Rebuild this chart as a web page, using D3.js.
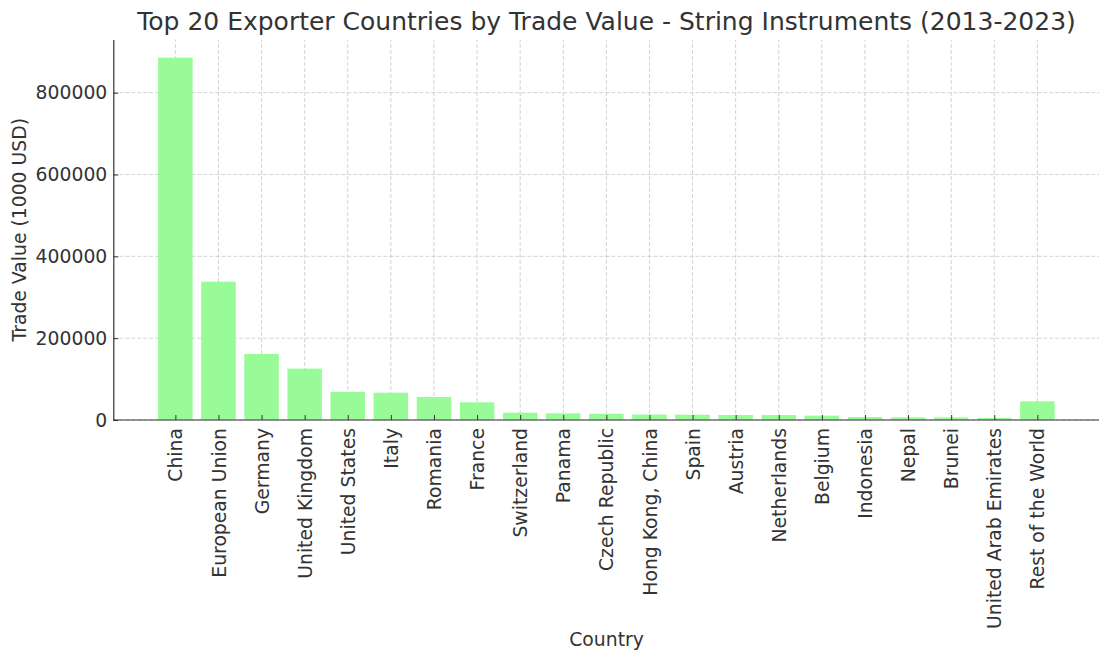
<!DOCTYPE html>
<html>
<head>
<meta charset="utf-8">
<script src="https://cdn.jsdelivr.net/npm/d3@7"></script>
<style>
  body { margin: 0; background: #fff; }
  text { font-family: "DejaVu Sans", sans-serif; fill: #333; }
</style>
</head>
<body>
<svg id="chart" width="1099" height="652"></svg>
<script>
const countries = [
  "China", "European Union", "Germany", "United Kingdom", "United States",
  "Italy", "Romania", "France", "Switzerland", "Panama", "Czech Republic",
  "Hong Kong, China", "Spain", "Austria", "Netherlands", "Belgium",
  "Indonesia", "Nepal", "Brunei", "United Arab Emirates", "Rest of the World"
];
const tradeValues = [
  885500, 338000, 161300, 125600, 69000,
  66700, 56200, 43200, 17900, 16300, 15200,
  13300, 13000, 12200, 12000, 10600,
  7300, 6500, 6300, 4900, 45600
];
const yTicks = [0, 200000, 400000, 600000, 800000];

const svg = d3.select("#chart");
const left = 113.3, bottom = 420;
const step = 43.1;
const n = countries.length;
const tickFont = 18.8;

// matplotlib-style x limits: bars at integer positions, 5% margin
const x = d3.scaleLinear()
  .domain([-1.44, n - 1 + 1.44])
  .range([left, left + (n - 1 + 2.88) * step]);
const y = d3.scaleLinear()
  .domain([0, d3.max(tradeValues) * 1.05])
  .range([bottom, bottom - d3.max(tradeValues) * 1.05 / 2444]);

// grid
const grid = svg.append("g").attr("class", "grid");
grid.selectAll(".gx")
  .data(countries)
  .join("line")
  .attr("x1", (d, i) => x(i)).attr("x2", (d, i) => x(i))
  .attr("y1", y.range()[0]).attr("y2", y.range()[1])
  .attr("stroke", "#c8c8c8").attr("stroke-width", 0.8)
  .attr("stroke-dasharray", "4,2");
grid.selectAll(".gy")
  .data(yTicks)
  .join("line")
  .attr("x1", left).attr("x2", 1099)
  .attr("y1", d => y(d)).attr("y2", d => y(d))
  .attr("stroke", "#c8c8c8").attr("stroke-width", 0.8)
  .attr("stroke-dasharray", "4,2");

// bars
const barW = 0.8 * step;
svg.append("g")
  .selectAll("rect")
  .data(tradeValues)
  .join("rect")
  .attr("x", (d, i) => x(i) - barW / 2)
  .attr("width", barW)
  .attr("y", d => y(d))
  .attr("height", d => y(0) - y(d))
  .attr("fill", "#98fb98");

// axes
const xAxis = d3.axisBottom(x)
  .tickValues(d3.range(n))
  .tickFormat(i => countries[i])
  .tickSizeInner(-5).tickSizeOuter(0);
const gx = svg.append("g")
  .attr("transform", `translate(0,${bottom})`)
  .call(xAxis);
gx.select(".domain").attr("stroke", "#333").attr("stroke-width", 1.2)
  .attr("d", `M${left},0H1099`);
gx.selectAll(".tick line").attr("stroke", "#333");
gx.selectAll(".tick text")
  .attr("font-size", tickFont)
  .attr("fill", "#333")
  .attr("transform", "rotate(-90)")
  .attr("text-anchor", "end")
  .attr("x", -8).attr("y", 0).attr("dy", "0.35em");

const yAxis = d3.axisLeft(y)
  .tickValues(yTicks)
  .tickFormat(d3.format("d"))
  .tickSizeInner(-5).tickSizeOuter(0);
const gy = svg.append("g")
  .attr("transform", `translate(${left},0)`)
  .call(yAxis);
gy.select(".domain").attr("stroke", "#333").attr("stroke-width", 1.2);
gy.selectAll(".tick line").attr("stroke", "#333");
gy.selectAll(".tick text")
  .attr("font-size", tickFont)
  .attr("fill", "#333")
  .attr("x", -6);

// titles
svg.append("text")
  .attr("x", (left + 1099.8) / 2).attr("y", 30)
  .attr("text-anchor", "middle")
  .attr("font-size", 25)
  .text("Top 20 Exporter Countries by Trade Value - String Instruments (2013-2023)");

svg.append("text")
  .attr("x", (left + 1099.8) / 2).attr("y", 646)
  .attr("text-anchor", "middle")
  .attr("font-size", tickFont)
  .text("Country");

svg.append("text")
  .attr("transform", `translate(26,${(y.range()[0] + y.range()[1]) / 2}) rotate(-90)`)
  .attr("text-anchor", "middle")
  .attr("font-size", tickFont)
  .text("Trade Value (1000 USD)");
</script>
</body>
</html>
